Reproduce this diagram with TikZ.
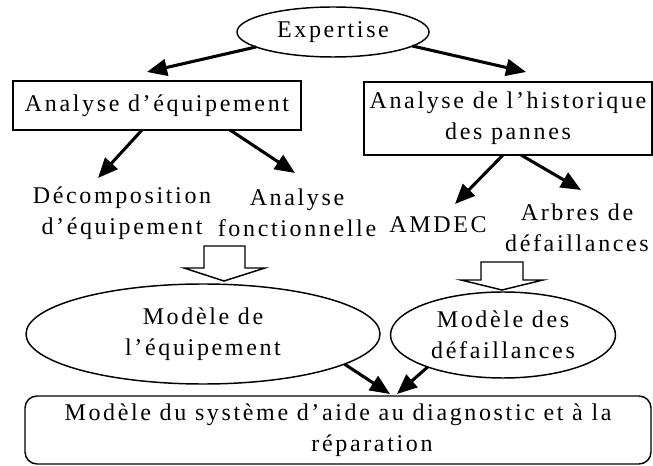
\documentclass[tikz,border=0pt]{standalone}
\usepackage{fontspec}
\setmainfont{Liberation Serif}[LetterSpace=11]
\usetikzlibrary{shapes.geometric,arrows.meta}

\begin{document}
\begin{tikzpicture}[x=.75pt, y=-.75pt, line width=1.1pt,
  every node/.style={font=\fontsize{18}{23.5}\selectfont, inner sep=0pt, outer sep=0pt, align=center},
  oval/.style={draw, ellipse},
  box/.style={draw, rectangle},
  arr/.style={line width=2.3pt, -{Triangle[length=15pt,width=12.5pt]}}]
\useasboundingbox (0,0) rectangle (653,466);
% top
\node[oval, minimum width=144pt, minimum height=37.5pt] (expertise) at (333,32) {Expertise};
% the two analyses
\node[box, minimum width=216pt, minimum height=36.75pt] (boxA) at (157,105.5) {Analyse d’équipement};
\node[box, minimum width=216pt, minimum height=54.75pt] (boxB) at (508,118.5) {Analyse de l’historique\\des pannes};
% methods
\node (decomp) at (122,213) {Décomposition\\d’équipement};
\node (fonct) at (297,213) {Analyse\\fonctionnelle};
\node (amdec) at (438,225) {AMDEC};
\node (arbres) at (577,228) {Arbres de\\défaillances};
% models
\node[oval, minimum width=265.5pt, minimum height=75pt] (modEq) at (203,334) {Modèle de\\l’équipement};
\node[oval, minimum width=168.75pt, minimum height=64.5pt] (modDef) at (503,335) {Modèle des\\défaillances};
\node[box, rounded corners=9pt, minimum width=469.5pt, minimum height=51pt] (modSys) at (338,430)
  {Modèle du système d’aide au diagnostic et à la\\\hspace*{51pt}réparation};
% arrows
\draw[arr] (expertise.191) -- ([shift={(-10,-9)}]boxA.north);
\draw[arr] (expertise.350) -- ([shift={(18,-10)}]boxB.north);
\draw[arr] ([shift={(-15,0)}]boxA.south) -- ([shift={(-24,-35)}]decomp.center);
\draw[arr] ([shift={(73,0)}]boxA.south) -- ([shift={(-2,-40)}]fonct.center);
\draw[arr] ([shift={(-5,0)}]boxB.south) -- ([shift={(17,-21)}]amdec.center);
\draw[arr] ([shift={(13,0)}]boxB.south) -- ([shift={(4,-38)}]arbres.center);
\draw[arr] (modEq.348) -- ([shift={(52,-2)}]modSys.north);
\draw[arr] (modDef.203) -- ([shift={(59,-2)}]modSys.north);
% hollow arrows
\draw (204,246) -- (245,246) -- (245,268) -- (265,268) -- (224,281) -- (184,268) -- (204,268) -- cycle;
\draw (481,262) -- (523,262) -- (523,280) -- (543,280) -- (502,290) -- (461,280) -- (481,280) -- cycle;
\end{tikzpicture}
\end{document}
